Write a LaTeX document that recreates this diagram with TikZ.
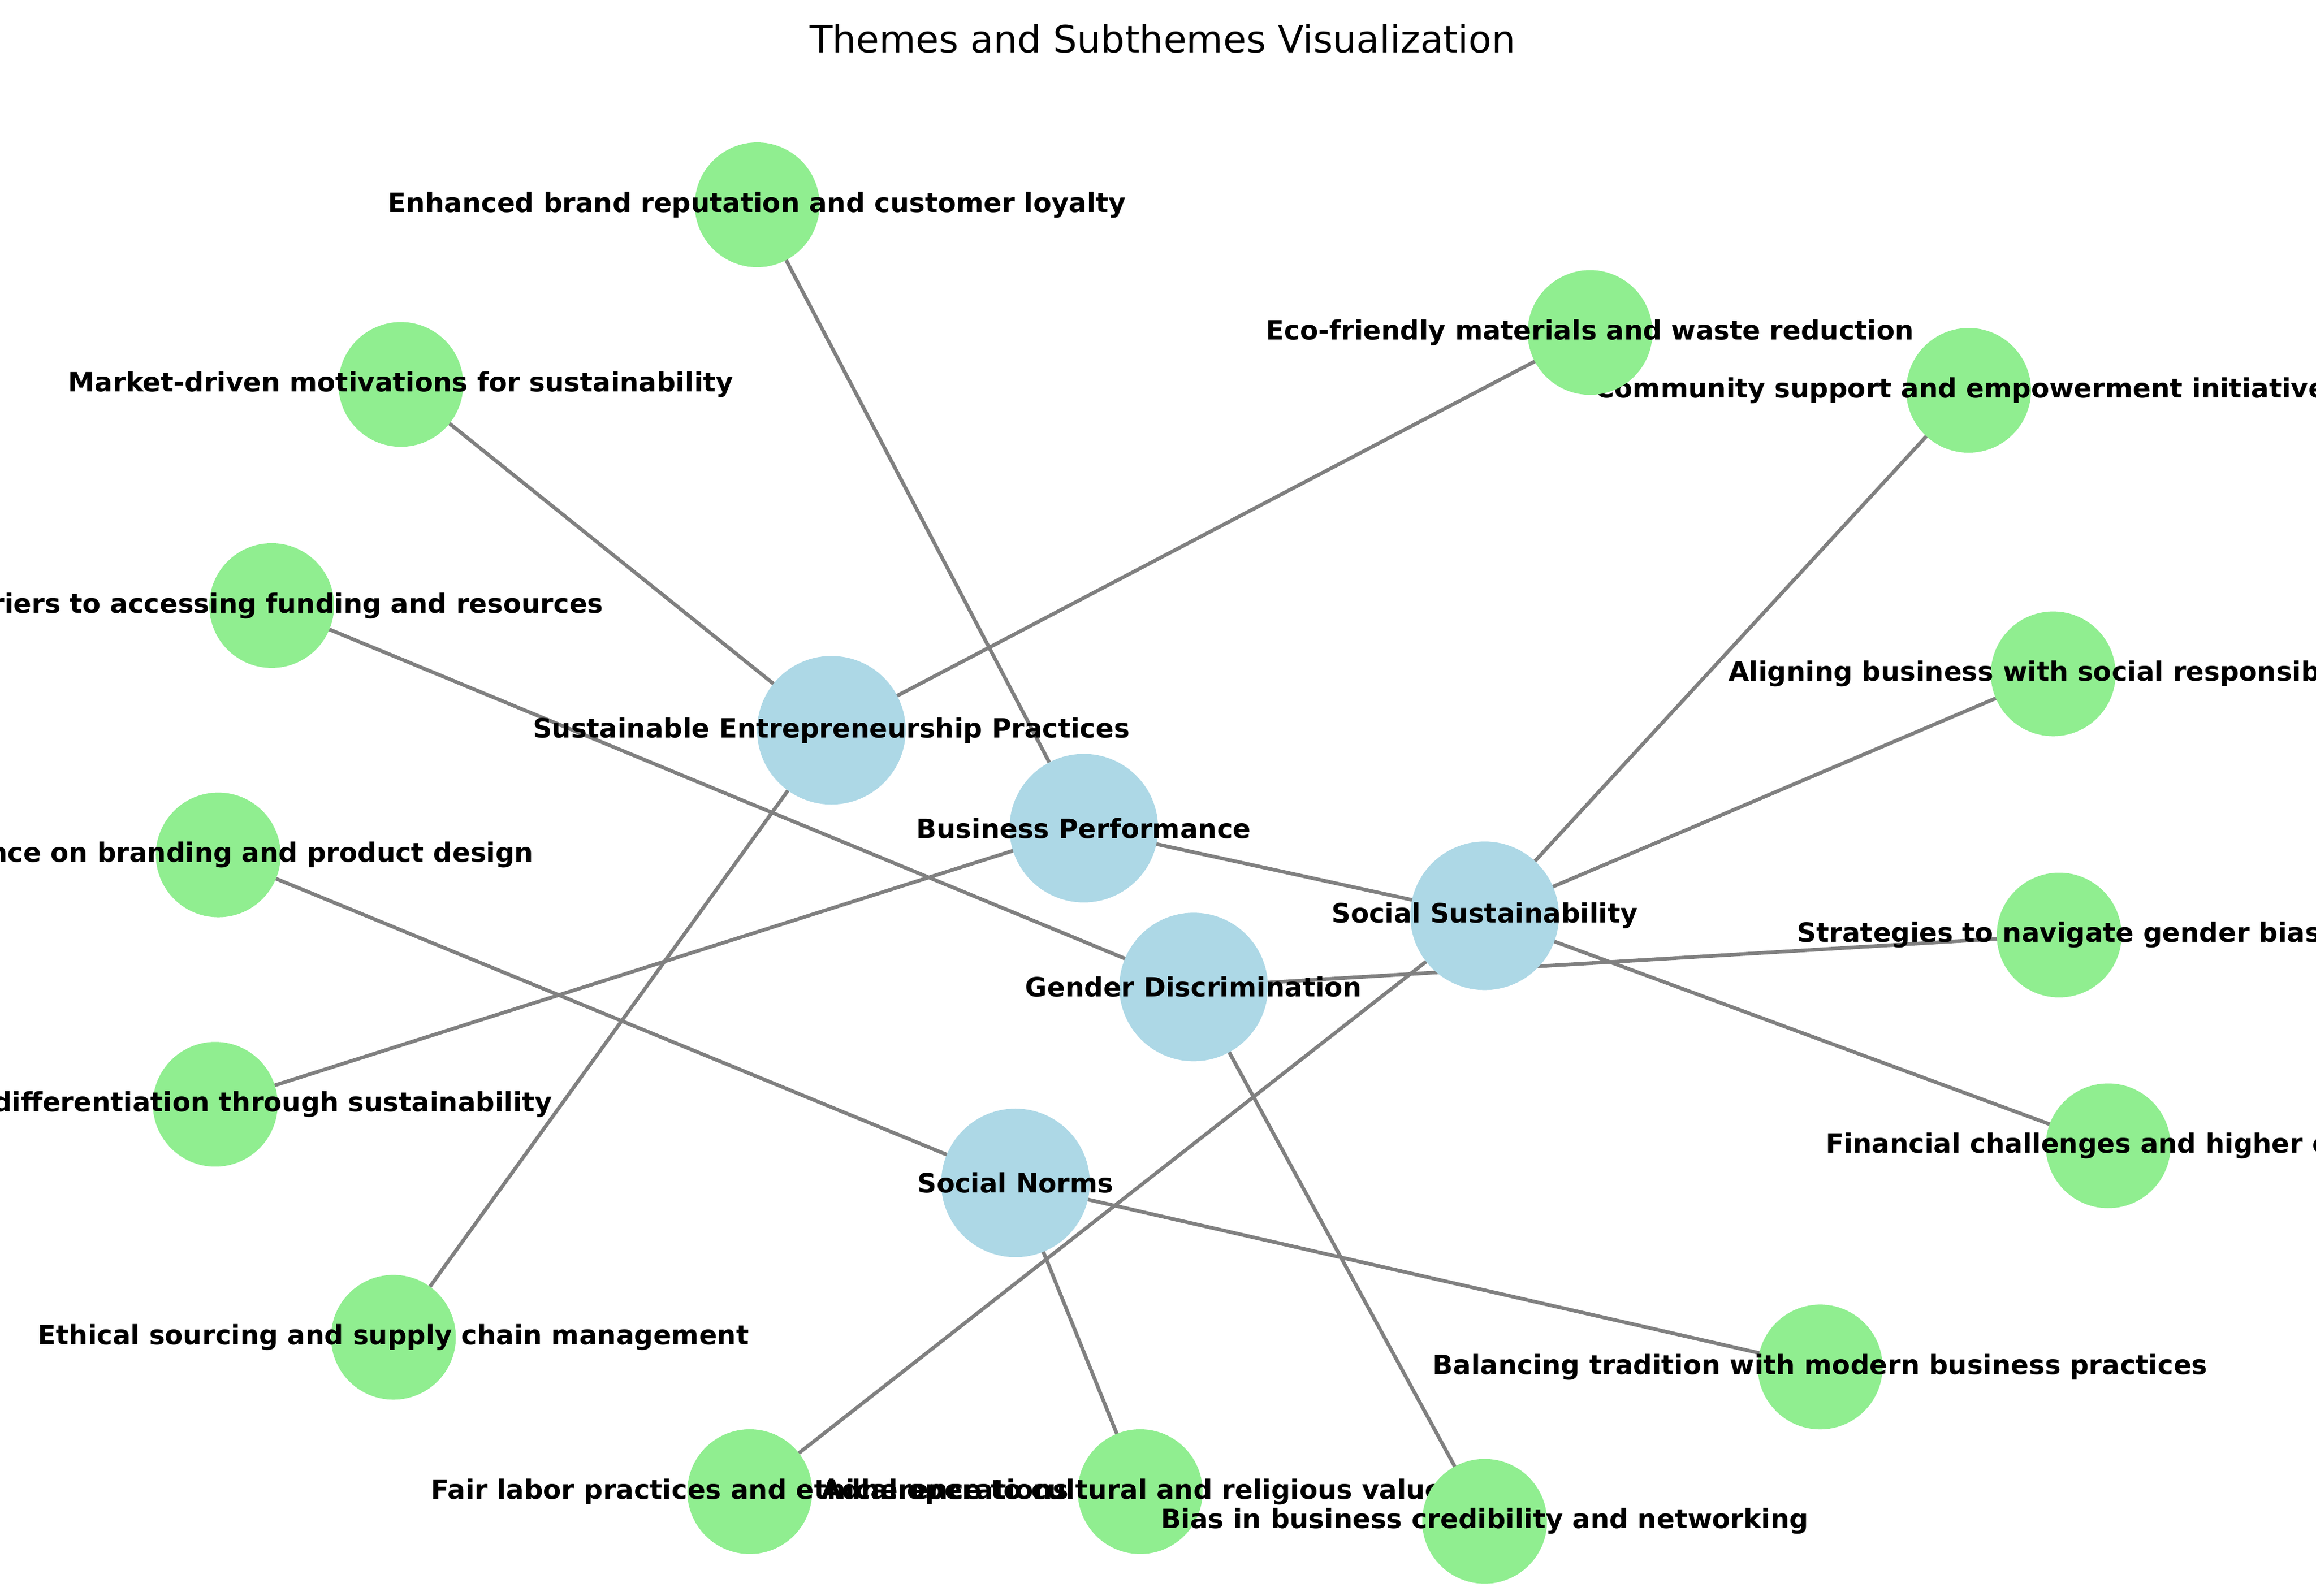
\documentclass[tikz,border=0pt]{standalone}
\usepackage{fontspec}
\setmainfont{DejaVu Sans}
\usetikzlibrary{backgrounds}
\definecolor{lgreen}{HTML}{90EE90}
\definecolor{lblue}{HTML}{ADD8E6}
\begin{document}
\begin{tikzpicture}[
    x=0.01cm, y=-0.01cm,
    every label/.style={font=\fontsize{5.1}{6}\selectfont\bfseries, inner sep=0pt},
    theme/.style={circle, fill=lblue, minimum size=1.0cm, inner sep=0pt,
                  label={center:#1}},
    sub/.style={circle, fill=lgreen, minimum size=0.84cm, inner sep=0pt,
                label={center:#1}},
    link/.style={draw=gray, line width=0.7pt}
]
    \useasboundingbox (0,0) rectangle (1560,1075);

    % Title
    \node (title) at (783,26) {\fontsize{7.2}{9}\selectfont Themes and Subthemes Visualization};

    % Themes
    \node (sep) [theme={Sustainable Entrepreneurship Practices}] at (560,492) {};
    \node (bp)  [theme={Business Performance}] at (730,558) {};
    \node (ss)  [theme={Social Sustainability}] at (1000,617) {};
    \node (gd)  [theme={Gender Discrimination}] at (804,665) {};
    \node (sn)  [theme={Social Norms}] at (684,797) {};

    % Subthemes
    \node (brand)   [sub={Enhanced brand reputation and customer loyalty}] at (510,138) {};
    \node (market)  [sub={Market-driven motivations for sustainability}] at (270,259) {};
    \node (funding) [sub={Barriers to accessing funding and resources}] at (183,408) {};
    \node (design)  [sub={Influence on branding and product design}] at (147,576) {};
    \node (diff)    [sub={Market differentiation through sustainability}] at (145,744) {};
    \node (ethical) [sub={Ethical sourcing and supply chain management}] at (265,901) {};
    \node (labor)   [sub={Fair labor practices and ethical operations}] at (505,1005) {};
    \node (adher)   [sub={Adherence to cultural and religious values}] at (768,1005) {};
    \node (bias)    [sub={Bias in business credibility and networking}] at (1000,1025) {};
    \node (balance) [sub={Balancing tradition with modern business practices}] at (1226,921) {};
    \node (finance) [sub={Financial challenges and higher costs}] at (1420,772) {};
    \node (strat)   [sub={Strategies to navigate gender bias}] at (1387,630) {};
    \node (align)   [sub={Aligning business with social responsibility}] at (1383,454) {};
    \node (commun)  [sub={Community support and empowerment initiatives}] at (1326,263) {};
    \node (eco)     [sub={Eco-friendly materials and waste reduction}] at (1071,224) {};

    % Links
    \begin{scope}[on background layer]
        \foreach \a/\b in {brand/bp, market/sep, funding/gd, design/sn, diff/bp,
                           ethical/sep, labor/ss, adher/sn, bias/gd, balance/sn,
                           finance/ss, strat/gd, align/ss, commun/ss, eco/sep, bp/ss}
            \draw [link] (\a.center) -- (\b.center);
    \end{scope}

\end{tikzpicture}
\end{document}
